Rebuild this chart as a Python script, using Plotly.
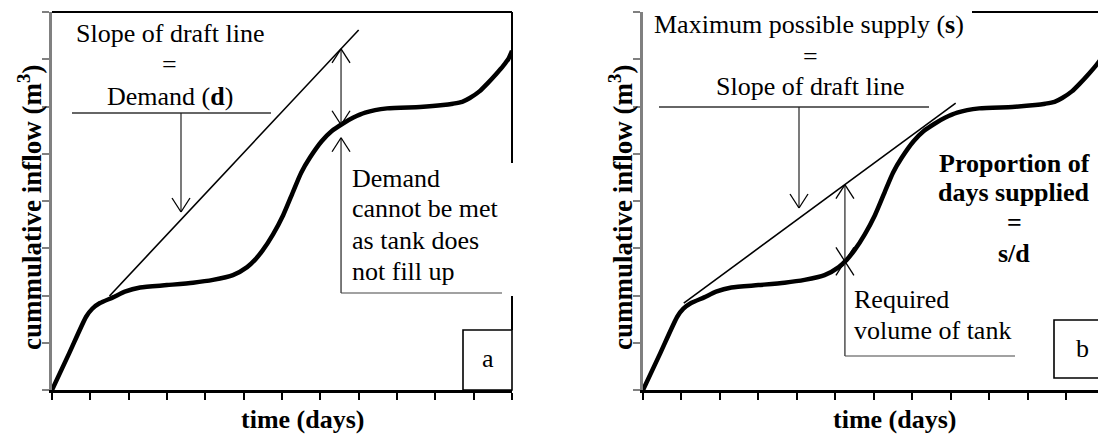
import numpy as np
import plotly.graph_objects as go

W, H = 1098, 435

# ---------------- data ----------------
days = [0, 0.45, 0.89, 1.05, 1.25, 1.59, 1.9, 2.3, 3.0, 3.68, 4.2, 4.72, 5.09, 5.3,
        5.5, 5.77, 6.03, 6.29, 6.5, 6.73, 7.04, 7.3, 7.57, 7.85, 8.17, 8.74,
        9.6, 10.2, 10.46, 10.7, 10.9, 11.15, 11.35, 11.6, 11.77, 11.9, 12.0]
inflow = [0, 0.78, 1.55, 1.72, 1.84, 1.96, 2.08, 2.17, 2.22, 2.27, 2.33, 2.43, 2.6, 2.76,
          2.96, 3.3, 3.7, 4.2, 4.6, 4.92, 5.27, 5.48, 5.63, 5.76, 5.87, 5.96,
          5.99, 6.03, 6.06, 6.1, 6.18, 6.32, 6.48, 6.7, 6.86, 7.0, 7.18]
draft_a_x = [1.5, 8.0]
draft_a_y = [1.99, 7.62]
draft_b_x = [1.06, 8.13]
draft_b_y = [1.84, 6.07]
check_a_day = 7.54
check_b_day = 5.25
x_ticks = list(range(0, 13))
y_ticks = list(range(0, 9))

# ---------------- layout geometry ----------------
PX_TOP, PX_BOT = 12, 390
PANELS = {
    "a": dict(x0=52, x1=512, xr=(0, 12)),
    "b": dict(x0=643, x1=1098, xr=(0, 11.83)),
}
YR = (0, 8)


def dx2px(p, x):
    g = PANELS[p]
    return g["x0"] + (x - g["xr"][0]) / (g["xr"][1] - g["xr"][0]) * (g["x1"] - g["x0"])


def dy2px(y):
    return PX_BOT - (y - YR[0]) / (YR[1] - YR[0]) * (PX_BOT - PX_TOP)


FONT = "Liberation Serif"
FS = 26

fig = go.Figure()
for p, xa, ya in (("a", "x", "y"), ("b", "x2", "y2")):
    fig.add_trace(go.Scatter(x=days, y=inflow, mode="lines", xaxis=xa, yaxis=ya,
                             line=dict(color="black", width=4.5, shape="spline", smoothing=0.6),
                             showlegend=False, hoverinfo="skip"))
fig.add_trace(go.Scatter(x=draft_a_x, y=draft_a_y, mode="lines", xaxis="x", yaxis="y",
                         line=dict(color="black", width=1.6), showlegend=False))
fig.add_trace(go.Scatter(x=draft_b_x, y=draft_b_y, mode="lines", xaxis="x2", yaxis="y2",
                         line=dict(color="black", width=1.6), showlegend=False))

shapes = []
annots = []


def seg(x0, y0, x1, y1, color="black", width=1.5):
    shapes.append(dict(type="line", xref="paper", yref="paper",
                       x0=x0 / W, y0=1 - y0 / H, x1=x1 / W, y1=1 - y1 / H,
                       line=dict(color=color, width=width)))


def rect(x0, y0, x1, y1, color="black", width=1.5):
    shapes.append(dict(type="rect", xref="paper", yref="paper",
                       x0=x0 / W, y0=1 - y0 / H, x1=x1 / W, y1=1 - y1 / H,
                       line=dict(color=color, width=width), fillcolor="rgba(0,0,0,0)"))


def head(x, y, direction, color="black", width=1.3, dx=9, dy=14):
    s = 1 if direction == "up" else -1
    seg(x - dx, y + s * dy, x, y, color, width)
    seg(x + dx, y + s * dy, x, y, color, width)


def text(t, x, y, xanchor="center", bold=False, size=FS, angle=0):
    if bold:
        t = "<b>" + t + "</b>"
    annots.append(dict(text=t, x=x / W, y=1 - y / H, xref="paper", yref="paper",
                       xanchor=xanchor, yanchor="middle", showarrow=False,
                       textangle=angle, font=dict(family=FONT, size=size, color="black")))


# ---- panel a frame ----
seg(52, PX_TOP, 512, PX_TOP, width=2)
seg(512, PX_TOP, 512, 163, width=2)
seg(512, 296, 512, 330, width=2)
rect(463, 330, 512, 390, width=1.6)
text("a", 488, 358)

# ---- panel b frame ----
seg(972, PX_TOP, 1100, PX_TOP, width=2)
rect(1054, 320, 1110, 378, width=1.6)
text("b", 1082, 348)

# ---- panel a annotations ----
text("Slope of draft line", 170, 33)
text("=", 170, 64)
text("Demand (<b>d</b>)", 170, 96)
seg(72, 113, 271, 113, color="#333", width=1.5)
seg(181, 113, 181, 212, color="#222", width=1.2)
head(181, 212, "down")

xa_px = dx2px("a", check_a_day)
ya_draft = dy2px(np.interp(check_a_day, draft_a_x, draft_a_y))
ya_curve = dy2px(np.interp(check_a_day, days, inflow))
seg(xa_px, ya_draft, xa_px, ya_curve, color="#222", width=1.2)
head(xa_px, ya_draft, "up")
head(xa_px, ya_curve, "down")
seg(xa_px, ya_curve + 13, xa_px, 293, color="#222", width=1.2)
head(xa_px, ya_curve + 13, "up")
seg(xa_px, 293, 502, 293, color="#444", width=1.2)
for i, line in enumerate(["Demand", "cannot be met", "as tank does", "not fill up"]):
    text(line, 350, 178 + 31 * i, xanchor="left")

# ---- panel b annotations ----
text("Maximum possible supply (<b>s</b>)", 809, 24)
text("=", 810, 56)
text("Slope of draft line", 810, 87)
seg(659, 107, 929, 107, color="#333", width=1.5)
seg(799, 107, 799, 208, color="#222", width=1.2)
head(799, 208, "down")

xb_px = dx2px("b", check_b_day)
yb_draft = dy2px(np.interp(check_b_day, draft_b_x, draft_b_y))
yb_curve = dy2px(np.interp(check_b_day, days, inflow))
seg(xb_px, yb_draft, xb_px, 356, color="#222", width=1.2)
head(xb_px, yb_draft, "up")
head(xb_px, yb_curve, "down")
head(xb_px, yb_curve, "up")
seg(xb_px, 356, 1015, 356, color="#444", width=1.2)
text("Required", 852, 299, xanchor="left")
text("volume of tank", 852, 330, xanchor="left")
for i, line in enumerate(["Proportion of", "days supplied", "=", "s/d"]):
    text(line, 1014, 163 + 30 * i, bold=True)

# ---- axis titles ----
for off in (0, 591):
    text("time (days)", 303 + off, 419, bold=True)
    text("cummulative inflow (m<sup>3</sup>)", 30 + off, 208, bold=True, size=27, angle=-90)

ydom = [1 - PX_BOT / H, 1 - PX_TOP / H]
common_x = dict(showline=True, linecolor="black", linewidth=2.5, ticks="outside",
                ticklen=7, tickwidth=2, tickcolor="black", tickvals=x_ticks,
                showticklabels=False, showgrid=False, zeroline=False, fixedrange=True)
common_y = dict(showline=True, linecolor="#808080", linewidth=2.5, ticks="outside",
                ticklen=7, tickwidth=2, tickcolor="#808080", tickvals=y_ticks,
                showticklabels=False, showgrid=False, zeroline=False, range=list(YR),
                domain=ydom, fixedrange=True)

fig.update_layout(
    width=W, height=H, autosize=False,
    margin=dict(l=0, r=0, t=0, b=0),
    paper_bgcolor="white", plot_bgcolor="white",
    xaxis=dict(common_x, domain=[52 / W, 512 / W], range=list(PANELS["a"]["xr"]), anchor="y"),
    yaxis=dict(common_y, anchor="x"),
    xaxis2=dict(common_x, domain=[643 / W, 1.0], range=list(PANELS["b"]["xr"]), anchor="y2"),
    yaxis2=dict(common_y, anchor="x2"),
    shapes=shapes, annotations=annots, showlegend=False,
)

fig.write_html("out.html")
